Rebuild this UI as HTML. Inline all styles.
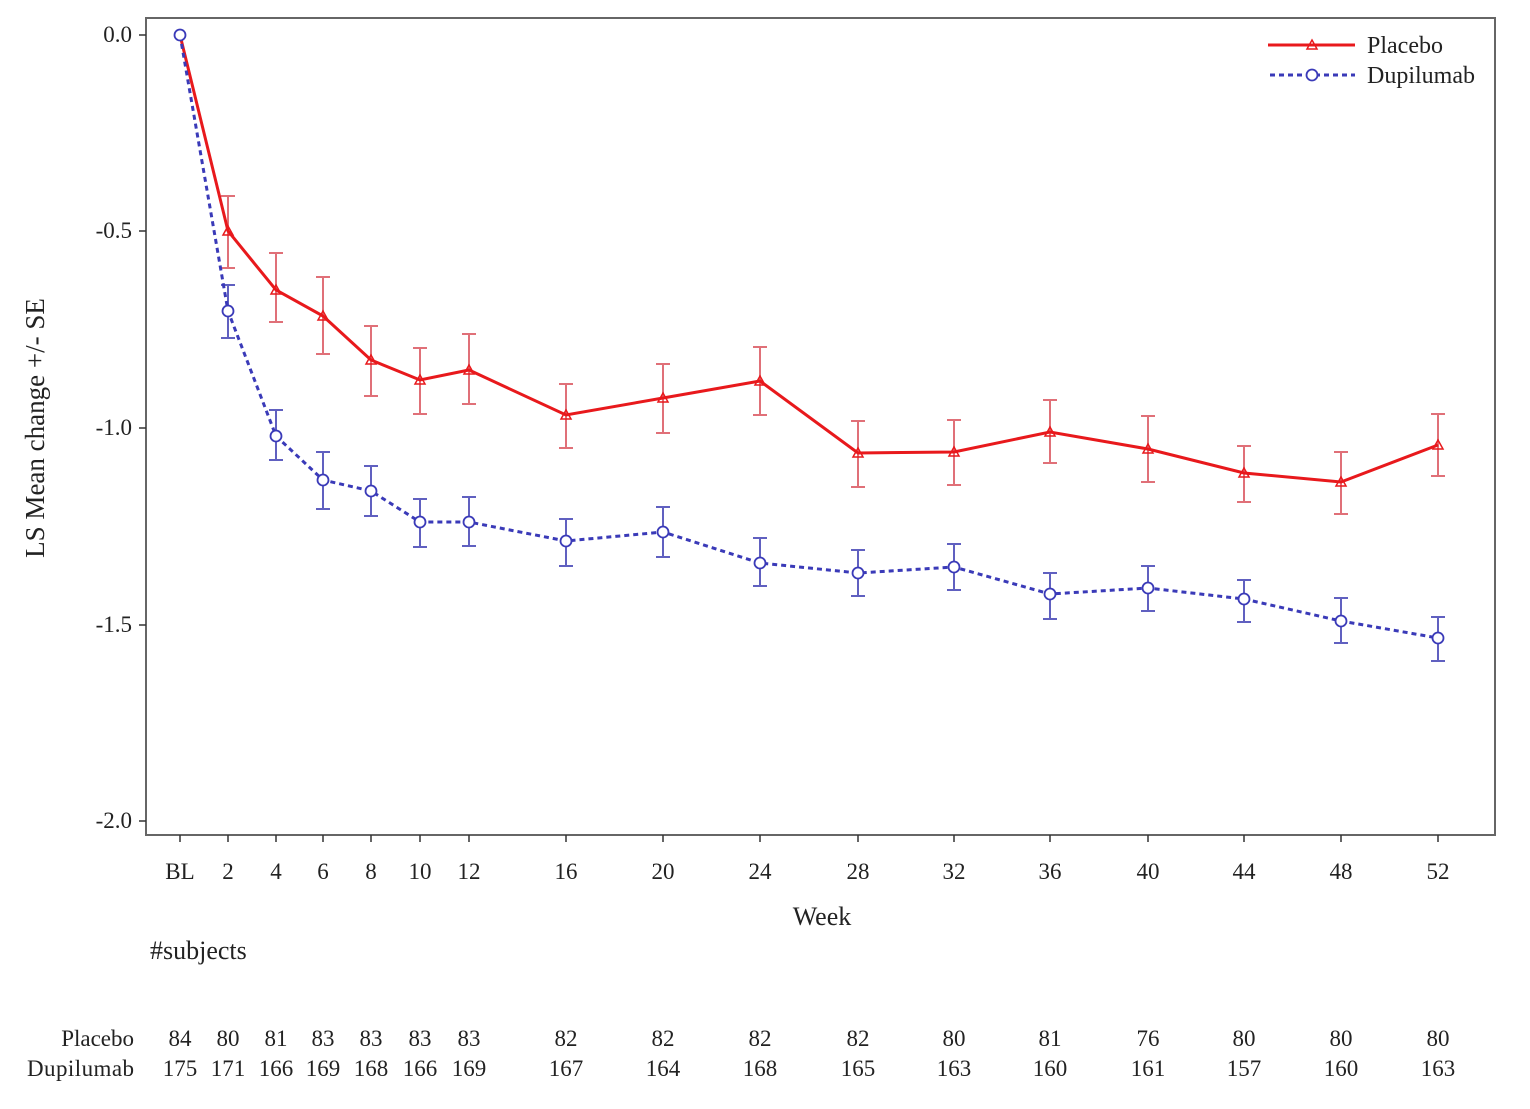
<!DOCTYPE html><html><head><style>body{margin:0;background:#fff}svg{display:block}text{font-family:"Liberation Serif",serif;fill:#222}</style></head><body>
<svg width="1530" height="1109" viewBox="0 0 1530 1109">
<rect x="146" y="18" width="1349" height="817" fill="none" stroke="#666" stroke-width="2"/>
<g stroke="#333" stroke-width="1.5">
<path d="M139 35h7M139 231h7M139 428h7M139 625h7M139 821h7"/>
<path d="M180 835v7M228 835v7M276 835v7M323 835v7M371 835v7M420 835v7M469 835v7M566 835v7M663 835v7M760 835v7M858 835v7M954 835v7M1050 835v7M1148 835v7M1244 835v7M1341 835v7M1438 835v7"/>
</g>
<g font-size="23" text-anchor="end">
<text x="132" y="42">0.0</text><text x="132" y="238">-0.5</text><text x="132" y="435">-1.0</text><text x="132" y="632">-1.5</text><text x="132" y="828">-2.0</text>
</g>
<text transform="translate(44,428) rotate(-90)" font-size="27" text-anchor="middle">LS Mean change +/- SE</text>
<g font-size="23" text-anchor="middle">
<text x="180" y="879">BL</text><text x="228" y="879">2</text><text x="276" y="879">4</text><text x="323" y="879">6</text><text x="371" y="879">8</text><text x="420" y="879">10</text><text x="469" y="879">12</text><text x="566" y="879">16</text><text x="663" y="879">20</text><text x="760" y="879">24</text><text x="858" y="879">28</text><text x="954" y="879">32</text><text x="1050" y="879">36</text><text x="1148" y="879">40</text><text x="1244" y="879">44</text><text x="1341" y="879">48</text><text x="1438" y="879">52</text>
</g>
<text x="822" y="925" font-size="26" text-anchor="middle">Week</text>
<text x="150" y="959" font-size="26">#subjects</text>
<g font-size="23" text-anchor="middle">
<text x="180" y="1046">84</text><text x="228" y="1046">80</text><text x="276" y="1046">81</text><text x="323" y="1046">83</text><text x="371" y="1046">83</text><text x="420" y="1046">83</text><text x="469" y="1046">83</text><text x="566" y="1046">82</text><text x="663" y="1046">82</text><text x="760" y="1046">82</text><text x="858" y="1046">82</text><text x="954" y="1046">80</text><text x="1050" y="1046">81</text><text x="1148" y="1046">76</text><text x="1244" y="1046">80</text><text x="1341" y="1046">80</text><text x="1438" y="1046">80</text>
<text x="180" y="1076">175</text><text x="228" y="1076">171</text><text x="276" y="1076">166</text><text x="323" y="1076">169</text><text x="371" y="1076">168</text><text x="420" y="1076">166</text><text x="469" y="1076">169</text><text x="566" y="1076">167</text><text x="663" y="1076">164</text><text x="760" y="1076">168</text><text x="858" y="1076">165</text><text x="954" y="1076">163</text><text x="1050" y="1076">160</text><text x="1148" y="1076">161</text><text x="1244" y="1076">157</text><text x="1341" y="1076">160</text><text x="1438" y="1076">163</text>
</g>
<g font-size="23" text-anchor="end"><text x="134" y="1046">Placebo</text><text x="134" y="1076" textLength="107">Dupilumab</text></g>
<path fill="none" stroke="#e07078" stroke-width="2" d="M228 196V268M221 196h14M221 268h14M276 253V322M269 253h14M269 322h14M323 277V354M316 277h14M316 354h14M371 326V396M364 326h14M364 396h14M420 348V414M413 348h14M413 414h14M469 334V404M462 334h14M462 404h14M566 384V448M559 384h14M559 448h14M663 364V433M656 364h14M656 433h14M760 347V415M753 347h14M753 415h14M858 421V487M851 421h14M851 487h14M954 420V485M947 420h14M947 485h14M1050 400V463M1043 400h14M1043 463h14M1148 416V482M1141 416h14M1141 482h14M1244 446V502M1237 446h14M1237 502h14M1341 452V514M1334 452h14M1334 514h14M1438 414V476M1431 414h14M1431 476h14"/>
<path fill="none" stroke="#6060c0" stroke-width="2" d="M228 285V338M221 285h14M221 338h14M276 410V460M269 410h14M269 460h14M323 452V509M316 452h14M316 509h14M371 466V516M364 466h14M364 516h14M420 499V547M413 499h14M413 547h14M469 497V546M462 497h14M462 546h14M566 519V566M559 519h14M559 566h14M663 507V557M656 507h14M656 557h14M760 538V586M753 538h14M753 586h14M858 550V596M851 550h14M851 596h14M954 544V590M947 544h14M947 590h14M1050 573V619M1043 573h14M1043 619h14M1148 566V611M1141 566h14M1141 611h14M1244 580V622M1237 580h14M1237 622h14M1341 598V643M1334 598h14M1334 643h14M1438 617V661M1431 617h14M1431 661h14"/>
<polyline fill="none" stroke="#e8191c" stroke-width="3" points="180,35 228,231 276,290 323,316 371,360 420,380 469,370 566,415 663,398 760,381 858,453 954,452 1050,432 1148,449 1244,473 1341,482 1438,445"/>
<polyline fill="none" stroke="#3a3ab8" stroke-width="3" stroke-dasharray="5,4" points="180,35 228,311 276,436 323,480 371,491 420,522 469,522 566,541 663,532 760,563 858,573 954,567 1050,594 1148,588 1244,599 1341,621 1438,638"/>
<g fill="none" stroke="#e8191c" stroke-width="1.5">
<path d="M228 226l5 9h-10zM276 285l5 9h-10zM323 311l5 9h-10zM371 355l5 9h-10zM420 375l5 9h-10zM469 365l5 9h-10zM566 410l5 9h-10zM663 393l5 9h-10zM760 376l5 9h-10zM858 448l5 9h-10zM954 447l5 9h-10zM1050 427l5 9h-10zM1148 444l5 9h-10zM1244 468l5 9h-10zM1341 477l5 9h-10zM1438 440l5 9h-10z"/>
</g>
<g fill="#fff" stroke="#3a3ab8" stroke-width="1.8">
<circle cx="180" cy="35" r="5.5"/><circle cx="228" cy="311" r="5.5"/><circle cx="276" cy="436" r="5.5"/><circle cx="323" cy="480" r="5.5"/><circle cx="371" cy="491" r="5.5"/><circle cx="420" cy="522" r="5.5"/><circle cx="469" cy="522" r="5.5"/><circle cx="566" cy="541" r="5.5"/><circle cx="663" cy="532" r="5.5"/><circle cx="760" cy="563" r="5.5"/><circle cx="858" cy="573" r="5.5"/><circle cx="954" cy="567" r="5.5"/><circle cx="1050" cy="594" r="5.5"/><circle cx="1148" cy="588" r="5.5"/><circle cx="1244" cy="599" r="5.5"/><circle cx="1341" cy="621" r="5.5"/><circle cx="1438" cy="638" r="5.5"/>
</g>
<line x1="1268" y1="45" x2="1355" y2="45" stroke="#e8191c" stroke-width="3"/>
<path d="M1312 40l5 9h-10z" fill="none" stroke="#e8191c" stroke-width="1.5"/>
<line x1="1270" y1="75" x2="1355" y2="75" stroke="#3a3ab8" stroke-width="3" stroke-dasharray="5,4"/>
<circle cx="1312" cy="75" r="5.5" fill="#fff" stroke="#3a3ab8" stroke-width="1.8"/>
<text x="1367" y="53" font-size="24">Placebo</text>
<text x="1367" y="83" font-size="24">Dupilumab</text>
</svg></body></html>
